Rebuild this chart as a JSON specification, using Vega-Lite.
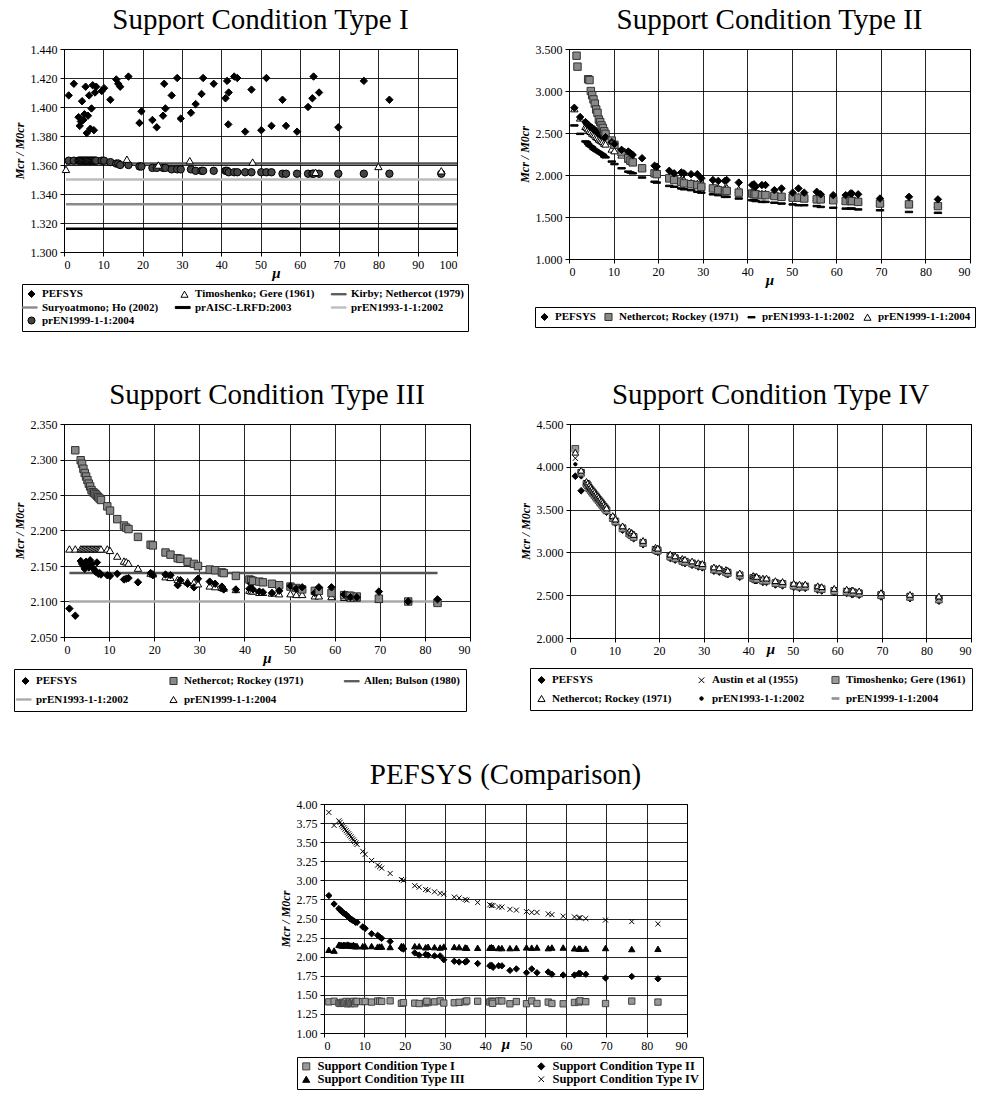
{
"$schema": "https://vega.github.io/schema/vega-lite/v6.json",
"background": "white",
"padding": {"left": 12, "top": 5, "right": 0, "bottom": 0},
"datasets": {
"main": [
{"mu":1.2,"i1":1.408,"i2":1.363,"ii1":2.80,"ii3":2.59,"ii4":2.79,"iii1":2.090,"iii3":2.174,"iv1":3.89,"iv2":4.10,"iv3":4.21,"iv4":4.17,"iv5":4.03,"iv6":4.19},
{"mu":2.5,"i1":1.416,"i2":1.363,"ii1":2.69,"ii3":2.49,"ii4":2.68,"iii1":2.080,"iii2":2.313,"iii3":2.174,"iv1":3.72,"iv2":3.94,"iv3":3.93,"iv4":3.96,"iv5":3.88,"iv6":3.92},
{"mu":3.7,"i1":1.393,"i2":1.363,"ii1":2.63,"ii3":2.40,"ii4":2.58,"iii1":2.157,"iii2":2.299,"iii3":2.174,"iv1":3.78,"iv2":3.815,"iv3":3.80,"iv4":3.83,"iv5":3.785,"iv6":3.79},
{"mu":4.0,"i1":1.387,"i2":1.363,"ii1":2.61,"ii3":2.39,"ii4":2.57,"iii1":2.153,"iii2":2.294,"iii3":2.174,"iv1":3.76,"iv2":3.795,"iv3":3.78,"iv4":3.81,"iv5":3.765,"iv6":3.77},
{"mu":4.3,"i1":1.390,"i2":1.363,"ii1":2.60,"ii2":3.14,"ii3":2.37,"ii4":2.55,"iii1":2.150,"iii2":2.287,"iii3":2.174,"iv1":3.73,"iv2":3.765,"iv3":3.75,"iv4":3.78,"iv5":3.735,"iv6":3.74},
{"mu":4.6,"i1":1.404,"i2":1.363,"ii1":2.58,"ii2":3.13,"ii3":2.35,"ii4":2.53,"iii1":2.146,"iii2":2.281,"iii3":2.174,"iv1":3.71,"iv2":3.745,"iv3":3.73,"iv4":3.76,"iv5":3.715,"iv6":3.72},
{"mu":4.9,"i1":1.391,"i2":1.363,"ii1":2.57,"ii2":3.00,"ii3":2.34,"ii4":2.52,"iii1":2.156,"iii2":2.276,"iii3":2.174,"iv1":3.69,"iv2":3.725,"iv3":3.71,"iv4":3.74,"iv5":3.695,"iv6":3.70},
{"mu":5.2,"i1":1.395,"i2":1.363,"ii1":2.56,"ii2":2.95,"ii3":2.33,"ii4":2.50,"iii1":2.151,"iii2":2.271,"iii3":2.174,"iv1":3.67,"iv2":3.705,"iv3":3.69,"iv4":3.72,"iv5":3.675,"iv6":3.68},
{"mu":5.5,"i1":1.414,"i2":1.363,"ii1":2.55,"ii2":2.90,"ii3":2.31,"ii4":2.49,"iii1":2.148,"iii2":2.266,"iii3":2.174,"iv1":3.65,"iv2":3.685,"iv3":3.67,"iv4":3.70,"iv5":3.655,"iv6":3.66},
{"mu":5.8,"i1":1.382,"i2":1.363,"ii1":2.53,"ii2":2.85,"ii3":2.30,"ii4":2.48,"iii1":2.158,"iii2":2.262,"iii3":2.174,"iv1":3.63,"iv2":3.665,"iv3":3.65,"iv4":3.68,"iv5":3.635,"iv6":3.64},
{"mu":6.1,"i1":1.394,"i2":1.363,"ii1":2.52,"ii2":2.78,"ii3":2.29,"ii4":2.46,"iii1":2.153,"iii2":2.257,"iii3":2.174,"iv1":3.61,"iv2":3.645,"iv3":3.63,"iv4":3.66,"iv5":3.615,"iv6":3.62},
{"mu":6.4,"i1":1.408,"i2":1.363,"ii1":2.50,"ii2":2.74,"ii3":2.28,"ii4":2.45,"iii1":2.147,"iii2":2.254,"iii3":2.174,"iv1":3.59,"iv2":3.625,"iv3":3.61,"iv4":3.64,"iv5":3.595,"iv6":3.60},
{"mu":6.7,"i1":1.385,"i2":1.363,"ii1":2.49,"ii2":2.66,"ii3":2.27,"ii4":2.43,"iii1":2.145,"iii2":2.253,"iii3":2.174,"iv1":3.57,"iv2":3.605,"iv3":3.59,"iv4":3.62,"iv5":3.575,"iv6":3.58},
{"mu":7.0,"i1":1.399,"i2":1.363,"ii1":2.48,"ii2":2.63,"ii3":2.26,"ii4":2.42,"iii1":2.142,"iii2":2.251,"iii3":2.174,"iv1":3.55,"iv2":3.585,"iv3":3.57,"iv4":3.60,"iv5":3.555,"iv6":3.56},
{"mu":7.3,"i1":1.415,"i2":1.363,"ii1":2.47,"ii2":2.59,"ii3":2.25,"ii4":2.41,"iii1":2.155,"iii2":2.249,"iii3":2.174,"iv1":3.53,"iv2":3.565,"iv3":3.55,"iv4":3.58,"iv5":3.535,"iv6":3.54},
{"mu":7.6,"i1":1.384,"i2":1.363,"ii1":2.46,"ii2":2.56,"ii3":2.24,"ii4":2.40,"iii1":2.139,"iii2":2.247,"iii3":2.174,"iv1":3.51,"iv2":3.545,"iv3":3.53,"iv4":3.56,"iv5":3.515,"iv6":3.52},
{"mu":7.9,"i1":1.410,"i2":1.363,"ii1":2.45,"ii2":2.52,"ii3":2.22,"ii4":2.38,"iii1":2.140,"iii2":2.245,"iii3":2.174,"iv1":3.49,"iv2":3.525,"iv3":3.51,"iv4":3.54,"iv5":3.495,"iv6":3.50},
{"mu":8.2,"i1":1.414,"i2":1.363,"ii1":2.45,"ii2":2.49,"ii3":2.21,"ii4":2.37,"iii1":2.138,"iii2":2.243,"iii3":2.174,"iv1":3.47,"iv2":3.505,"iv3":3.49,"iv4":3.52,"iv5":3.475,"iv6":3.48},
{"mu":9.6,"i1":1.411,"i2":1.363,"ii1":2.39,"ii2":2.41,"ii3":2.16,"ii4":2.31,"iii1":2.137,"iii2":2.234,"iii3":2.174,"iv1":3.38,"iv2":3.415,"iv3":3.40,"iv4":3.43,"iv5":3.385,"iv6":3.39},
{"mu":10.2,"i1":1.413,"i2":1.363,"ii1":2.37,"ii2":2.36,"ii3":2.13,"ii4":2.29,"iii1":2.136,"iii2":2.228,"iii3":2.172,"iv1":3.34,"iv2":3.375,"iv3":3.36,"iv4":3.39,"iv5":3.345,"iv6":3.35},
{"mu":11.8,"i1":1.405,"i2":1.362,"ii1":2.30,"ii2":2.27,"ii3":2.08,"ii4":2.24,"iii1":2.139,"iii2":2.216,"iii3":2.164,"iv1":3.26,"iv2":3.295,"iv3":3.28,"iv4":3.31,"iv5":3.265,"iv6":3.27},
{"mu":13.3,"i1":1.419,"i2":1.361,"ii1":2.28,"ii2":2.20,"ii3":2.04,"ii4":2.19,"iii1":2.131,"iii2":2.207,"iii3":2.157,"iv1":3.20,"iv2":3.235,"iv3":3.22,"iv4":3.25,"iv5":3.205,"iv6":3.21},
{"mu":13.8,"i1":1.416,"i2":1.361,"ii1":2.26,"ii2":2.17,"ii3":2.03,"ii4":2.17,"iii1":2.132,"iii2":2.204,"iii3":2.156,"iv1":3.18,"iv2":3.215,"iv3":3.20,"iv4":3.23,"iv5":3.185,"iv6":3.19},
{"mu":14.3,"i1":1.414,"i2":1.360,"ii1":2.24,"ii2":2.15,"ii3":2.02,"ii4":2.16,"iii1":2.133,"iii2":2.202,"iii3":2.154,"iv1":3.16,"iv2":3.195,"iv3":3.18,"iv4":3.21,"iv5":3.165,"iv6":3.17},
{"mu":16.4,"i1":1.421,"i2":1.360,"ii1":2.20,"ii2":2.08,"ii3":1.97,"ii4":2.09,"iii1":2.127,"iii2":2.191,"iii3":2.147,"iv1":3.09,"iv2":3.125,"iv3":3.11,"iv4":3.14,"iv5":3.095,"iv6":3.10},
{"mu":19.2,"i1":1.389,"i2":1.359,"ii1":2.11,"ii2":2.02,"ii3":1.92,"ii4":2.03,"iii1":2.140,"iii2":2.180,"iii3":2.140,"iv1":3.01,"iv2":3.045,"iv3":3.03,"iv4":3.06,"iv5":3.015,"iv6":3.02},
{"mu":19.7,"i1":1.397,"i2":1.359,"ii1":2.10,"ii2":2.01,"ii3":1.91,"ii4":2.02,"iii1":2.137,"iii2":2.179,"iii3":2.139,"iv1":3.00,"iv2":3.035,"iv3":3.02,"iv4":3.05,"iv5":3.005,"iv6":3.01},
{"mu":22.5,"i1":1.391,"i2":1.358,"ii1":2.05,"ii2":1.96,"ii3":1.87,"ii4":1.97,"iii1":2.138,"iii2":2.169,"iii3":2.135,"iv1":2.93,"iv2":2.965,"iv3":2.95,"iv4":2.98,"iv5":2.935,"iv6":2.94},
{"mu":23.6,"i1":1.386,"i2":1.358,"ii1":2.02,"ii2":1.94,"ii3":1.86,"ii4":1.96,"iii1":2.137,"iii2":2.166,"iii3":2.134,"iv1":2.91,"iv2":2.945,"iv3":2.93,"iv4":2.96,"iv5":2.915,"iv6":2.92},
{"mu":25.2,"i1":1.394,"i2":1.358,"ii1":2.03,"ii2":1.92,"ii3":1.84,"ii4":1.95,"iii1":2.123,"iii2":2.161,"iii3":2.131,"iv1":2.88,"iv2":2.915,"iv3":2.90,"iv4":2.93,"iv5":2.885,"iv6":2.89},
{"mu":25.8,"i1":1.399,"i2":1.358,"ii1":2.02,"ii2":1.90,"ii3":1.83,"ii4":1.94,"iii1":2.130,"iii2":2.160,"iii3":2.130,"iv1":2.87,"iv2":2.905,"iv3":2.89,"iv4":2.92,"iv5":2.875,"iv6":2.88},
{"mu":27.4,"i1":1.408,"i2":1.357,"ii1":2.01,"ii2":1.89,"ii3":1.82,"ii4":1.91,"iii1":2.125,"iii2":2.156,"iii3":2.128,"iv1":2.85,"iv2":2.885,"iv3":2.87,"iv4":2.90,"iv5":2.855,"iv6":2.86},
{"mu":28.8,"i1":1.420,"i2":1.357,"ii1":2.01,"ii2":1.88,"ii3":1.80,"ii4":1.90,"iii1":2.120,"iii2":2.153,"iii3":2.127,"iv1":2.83,"iv2":2.865,"iv3":2.85,"iv4":2.88,"iv5":2.835,"iv6":2.84},
{"mu":29.7,"i1":1.392,"i2":1.357,"ii1":1.96,"ii2":1.86,"ii3":1.79,"ii4":1.89,"iii1":2.132,"iii2":2.150,"iii3":2.125,"iv1":2.82,"iv2":2.855,"iv3":2.84,"iv4":2.87,"iv5":2.825,"iv6":2.83},
{"mu":32.3,"i1":1.396,"i2":1.357,"ii1":1.94,"ii2":1.84,"ii3":1.77,"ii4":1.86,"iii1":2.128,"iii2":2.145,"iii3":2.122,"iv1":2.78,"iv2":2.815,"iv3":2.80,"iv4":2.83,"iv5":2.785,"iv6":2.79},
{"mu":33.5,"i1":1.402,"i2":1.356,"ii1":1.93,"ii2":1.82,"ii3":1.76,"ii4":1.85,"iii1":2.125,"iii2":2.144,"iii3":2.121,"iv1":2.77,"iv2":2.805,"iv3":2.79,"iv4":2.82,"iv5":2.775,"iv6":2.78},
{"mu":35.0,"i1":1.409,"i2":1.356,"ii1":1.93,"ii2":1.81,"ii3":1.74,"ii4":1.84,"iii1":2.121,"iii2":2.141,"iii3":2.120,"iv1":2.75,"iv2":2.785,"iv3":2.77,"iv4":2.80,"iv5":2.755,"iv6":2.76},
{"mu":35.4,"i1":1.420,"i2":1.356,"ii1":1.94,"ii2":1.81,"ii3":1.74,"ii4":1.85,"iii1":2.117,"iii2":2.140,"iii3":2.119,"iv1":2.74,"iv2":2.775,"iv3":2.76,"iv4":2.79,"iv5":2.745,"iv6":2.75},
{"mu":38.1,"i1":1.416,"i2":1.356,"ii1":1.91,"ii2":1.79,"ii3":1.72,"ii4":1.83,"iii1":2.117,"iii2":2.136,"iii3":2.117,"iv1":2.71,"iv2":2.745,"iv3":2.73,"iv4":2.76,"iv5":2.715,"iv6":2.72},
{"mu":41.1,"i1":1.406,"i2":1.356,"ii1":1.88,"ii2":1.78,"ii3":1.70,"ii4":1.80,"iii1":2.118,"iii2":2.131,"iii3":2.116,"iv1":2.68,"iv2":2.715,"iv3":2.70,"iv4":2.73,"iv5":2.685,"iv6":2.69},
{"mu":41.5,"i1":1.418,"i2":1.356,"ii1":1.89,"ii2":1.77,"ii3":1.70,"ii4":1.80,"iii1":2.125,"iii2":2.130,"iii3":2.115,"iv1":2.67,"iv2":2.705,"iv3":2.69,"iv4":2.72,"iv5":2.675,"iv6":2.68},
{"mu":41.9,"i1":1.410,"i2":1.355,"ii1":1.86,"ii2":1.77,"ii3":1.69,"ii4":1.79,"iii1":2.117,"iii2":2.129,"iii3":2.115,"iv1":2.67,"iv2":2.705,"iv3":2.69,"iv4":2.72,"iv5":2.675,"iv6":2.68},
{"mu":43.3,"i1":1.421,"i2":1.355,"ii1":1.88,"ii2":1.76,"ii3":1.68,"ii4":1.78,"iii1":2.114,"iii2":2.128,"iii3":2.113,"iv1":2.65,"iv2":2.685,"iv3":2.67,"iv4":2.70,"iv5":2.655,"iv6":2.66},
{"mu":44.1,"i1":1.420,"i2":1.355,"ii1":1.88,"ii2":1.76,"ii3":1.68,"ii4":1.78,"iii1":2.113,"iii2":2.127,"iii3":2.113,"iv1":2.65,"iv2":2.685,"iv3":2.67,"iv4":2.70,"iv5":2.655,"iv6":2.66},
{"mu":46.1,"i1":1.383,"i2":1.355,"ii1":1.82,"ii2":1.75,"ii3":1.67,"ii4":1.76,"iii1":2.112,"iii2":2.125,"iii3":2.112,"iv1":2.62,"iv2":2.655,"iv3":2.64,"iv4":2.67,"iv5":2.625,"iv6":2.63},
{"mu":47.7,"i1":1.412,"i2":1.355,"ii1":1.84,"ii2":1.74,"ii3":1.66,"ii4":1.76,"iii1":2.115,"iii2":2.123,"iii3":2.111,"iv1":2.61,"iv2":2.645,"iv3":2.63,"iv4":2.66,"iv5":2.615,"iv6":2.62},
{"mu":50.2,"i1":1.384,"i2":1.355,"ii1":1.79,"ii2":1.73,"ii3":1.65,"ii4":1.74,"iii1":2.122,"iii2":2.121,"iii3":2.111,"iv1":2.59,"iv2":2.625,"iv3":2.61,"iv4":2.64,"iv5":2.595,"iv6":2.60},
{"mu":51.5,"i1":1.420,"i2":1.355,"ii1":1.84,"ii2":1.73,"ii3":1.64,"ii4":1.74,"iii1":2.118,"iii2":2.119,"iii3":2.110,"iv1":2.58,"iv2":2.615,"iv3":2.60,"iv4":2.63,"iv5":2.585,"iv6":2.59},
{"mu":52.8,"i1":1.387,"i2":1.355,"ii1":1.79,"ii2":1.72,"ii3":1.64,"ii4":1.74,"iii1":2.120,"iii2":2.117,"iii3":2.110,"iv1":2.58,"iv2":2.615,"iv3":2.60,"iv4":2.63,"iv5":2.585,"iv6":2.59},
{"mu":55.6,"i1":1.405,"i2":1.354,"ii1":1.80,"ii2":1.71,"ii3":1.63,"ii4":1.73,"iii1":2.112,"iii2":2.115,"iii3":2.108,"iv1":2.56,"iv2":2.595,"iv3":2.58,"iv4":2.61,"iv5":2.565,"iv6":2.57},
{"mu":56.5,"i1":1.387,"i2":1.354,"ii1":1.77,"ii2":1.71,"ii3":1.62,"ii4":1.72,"iii1":2.120,"iii2":2.115,"iii3":2.108,"iv1":2.55,"iv2":2.585,"iv3":2.57,"iv4":2.60,"iv5":2.555,"iv6":2.56},
{"mu":59.3,"i1":1.383,"i2":1.354,"ii1":1.76,"ii2":1.70,"ii3":1.61,"ii4":1.72,"iii1":2.120,"iii2":2.112,"iii3":2.107,"iv1":2.53,"iv2":2.565,"iv3":2.55,"iv4":2.58,"iv5":2.535,"iv6":2.54},
{"mu":62.1,"i1":1.400,"i2":1.354,"ii1":1.76,"ii2":1.69,"ii3":1.60,"ii4":1.70,"iii1":2.110,"iii2":2.109,"iii3":2.106,"iv1":2.52,"iv2":2.555,"iv3":2.54,"iv4":2.57,"iv5":2.525,"iv6":2.53},
{"mu":63.2,"i1":1.406,"i2":1.354,"ii1":1.78,"ii2":1.69,"ii3":1.60,"ii4":1.71,"iii1":2.107,"iii2":2.108,"iii3":2.106,"iv1":2.51,"iv2":2.545,"iv3":2.53,"iv4":2.56,"iv5":2.515,"iv6":2.52},
{"mu":63.5,"i1":1.421,"i2":1.354,"ii1":1.78,"ii2":1.69,"ii3":1.60,"ii4":1.71,"iii1":2.106,"iii2":2.108,"iii3":2.105,"iv1":2.51,"iv2":2.545,"iv3":2.53,"iv4":2.56,"iv5":2.515,"iv6":2.52},
{"mu":64.9,"i1":1.410,"i2":1.354,"ii1":1.77,"ii2":1.68,"ii3":1.59,"ii4":1.70,"iii1":2.106,"iii2":2.107,"iii3":2.105,"iv1":2.50,"iv2":2.535,"iv3":2.52,"iv4":2.55,"iv5":2.505,"iv6":2.51},
{"mu":69.8,"i1":1.386,"i2":1.354,"ii1":1.72,"ii2":1.66,"ii3":1.58,"ii4":1.68,"iii1":2.114,"iii2":2.104,"iii3":2.103,"iv1":2.48,"iv2":2.515,"iv3":2.50,"iv4":2.53,"iv5":2.485,"iv6":2.49},
{"mu":76.3,"i1":1.418,"i2":1.354,"ii1":1.74,"ii2":1.65,"ii3":1.56,"ii4":1.67,"iii1":2.100,"iii2":2.100,"iii3":2.101,"iv1":2.46,"iv2":2.495,"iv3":2.48,"iv4":2.51,"iv5":2.465,"iv6":2.47},
{"mu":82.8,"i1":1.405,"i2":1.354,"ii1":1.71,"ii2":1.63,"ii3":1.55,"ii4":1.65,"iii1":2.103,"iii2":2.098,"iii3":2.100,"iv1":2.43,"iv2":2.465,"iv3":2.45,"iv4":2.49,"iv5":2.435,"iv6":2.44},
{"mu":1.7,"ii2":3.42},
{"mu":1.9,"ii2":3.29},
{"mu":25.5,"i1":1.416},
{"mu":41.8,"i1":1.388},
{"mu":0.5,"it":1.357},
{"mu":16,"it":1.364},
{"mu":24,"it":1.360},
{"mu":32,"it":1.363},
{"mu":48,"it":1.362},
{"mu":64,"it":1.355},
{"mu":80,"it":1.359},
{"mu":96,"it":1.356,"i2":1.354}
],
"rules1": [
{"series":"kirby","y":1.361,"x0":0.5,"x1":100},
{"series":"en93","y":1.350,"x0":0.5,"x1":100},
{"series":"sury","y":1.333,"x0":0.5,"x1":100},
{"series":"aisc","y":1.316,"x0":0.5,"x1":100}
],
"rules3": [
{"series":"allen","y":2.140,"x0":1.2,"x1":82.8},
{"series":"en93","y":2.100,"x0":1.2,"x1":82.8}
]
},
"resolve": {"scale": {"fill":"independent","stroke":"independent","shape":"independent"}, "legend": {"fill":"independent","stroke":"independent","shape":"independent"}},
"spacing": 48,
"vconcat": [
{
"spacing": 48,
"resolve": {"scale": {"fill":"independent","stroke":"independent","shape":"independent"}, "legend": {"fill":"independent","stroke":"independent","shape":"independent"}},
"hconcat": [
{
"width": 393, "height": 203,
"title": {"text": "Support Condition Type I", "offset": 8},
"layer": [
{
"data": {"name": "rules1"},
"mark": {"type": "rule", "strokeWidth": 2.5},
"encoding": {
"x": {"field": "x0", "type": "quantitative", "scale": {"domain": [0,100], "nice": false, "zero": false}, "axis": {"values": [0,10,20,30,40,50,60,70,80,90,100], "title": "μ", "titleX": 212, "titleY": 20, "titleBaseline": "middle"}},
"x2": {"field": "x1"},
"y": {"field": "y", "type": "quantitative", "scale": {"domain": [1.3,1.44], "nice": false, "zero": false}, "axis": {"values": [1.30,1.32,1.34,1.36,1.38,1.40,1.42,1.44], "format": ".3f", "title": "Mcr / M0cr"}},
"stroke": {"field": "series", "type": "nominal", "scale": {"domain": ["i1","it","kirby","sury","aisc","en93","i2"], "range": ["#000","#000","#555","#8a8a8a","#000","#bdbdbd","#000"]},
"legend": {"orient":"none","legendX":-42,"legendY":235,"columns":3,"direction":"horizontal","title":null,"columnPadding":14,"rowPadding":1,"labelExpr":"datum.label=='i1'?'PEFSYS':datum.label=='it'?'Timoshenko; Gere (1961)':datum.label=='kirby'?'Kirby; Nethercot (1979)':datum.label=='sury'?'Suryoatmono; Ho (2002)':datum.label=='aisc'?'prAISC-LRFD:2003':datum.label=='en93'?'prEN1993-1-1:2002':'prEN1999-1-1:2004'"}}
}
},
{
"data": {"name": "main"},
"transform": [{"fold": ["i2","it","i1"], "as": ["series","value"]}, {"filter": "isValid(datum.value)"}],
"mark": {"type": "point", "filled": true, "size": 55, "opacity": 1, "strokeWidth": 1},
"encoding": {
"x": {"field": "mu", "type": "quantitative", "scale": {"domain": [0,100], "nice": false, "zero": false}, "axis": {"values": [0,10,20,30,40,50,60,70,80,90,100], "title": "μ", "titleX": 212, "titleY": 20, "titleBaseline": "middle"}},
"y": {"field": "value", "type": "quantitative", "scale": {"domain": [1.3,1.44], "nice": false, "zero": false}, "axis": {"values": [1.30,1.32,1.34,1.36,1.38,1.40,1.42,1.44], "format": ".3f", "title": "Mcr / M0cr"}},
"shape": {"field": "series", "type": "nominal", "scale": {"domain": ["i1","it","kirby","sury","aisc","en93","i2"], "range": ["diamond","triangle-up","M-2.6,-0.18L1.6,-0.18L1.6,0.18L-2.6,0.18Z","M-2.6,-0.18L1.6,-0.18L1.6,0.18L-2.6,0.18Z","M-2.6,-0.3L1.6,-0.3L1.6,0.3L-2.6,0.3Z","M-2.6,-0.18L1.6,-0.18L1.6,0.18L-2.6,0.18Z","circle"]},
"legend": {"orient":"none","legendX":-42,"legendY":235,"columns":3,"direction":"horizontal","title":null,"columnPadding":14,"rowPadding":1,"labelExpr":"datum.label=='i1'?'PEFSYS':datum.label=='it'?'Timoshenko; Gere (1961)':datum.label=='kirby'?'Kirby; Nethercot (1979)':datum.label=='sury'?'Suryoatmono; Ho (2002)':datum.label=='aisc'?'prAISC-LRFD:2003':datum.label=='en93'?'prEN1993-1-1:2002':'prEN1999-1-1:2004'"}},
"fill": {"field": "series", "type": "nominal", "scale": {"domain": ["i1","it","kirby","sury","aisc","en93","i2"], "range": ["#000","#fff","#555","#8a8a8a","#000","#bdbdbd","#444"]},
"legend": {"orient":"none","legendX":-42,"legendY":235,"columns":3,"direction":"horizontal","title":null,"columnPadding":14,"rowPadding":1,"labelExpr":"datum.label=='i1'?'PEFSYS':datum.label=='it'?'Timoshenko; Gere (1961)':datum.label=='kirby'?'Kirby; Nethercot (1979)':datum.label=='sury'?'Suryoatmono; Ho (2002)':datum.label=='aisc'?'prAISC-LRFD:2003':datum.label=='en93'?'prEN1993-1-1:2002':'prEN1999-1-1:2004'"}},
"stroke": {"field": "series", "type": "nominal", "scale": {"domain": ["i1","it","kirby","sury","aisc","en93","i2"], "range": ["#000","#000","#555","#8a8a8a","#000","#bdbdbd","#000"]},
"legend": {"orient":"none","legendX":-42,"legendY":235,"columns":3,"direction":"horizontal","title":null,"columnPadding":14,"rowPadding":1,"labelExpr":"datum.label=='i1'?'PEFSYS':datum.label=='it'?'Timoshenko; Gere (1961)':datum.label=='kirby'?'Kirby; Nethercot (1979)':datum.label=='sury'?'Suryoatmono; Ho (2002)':datum.label=='aisc'?'prAISC-LRFD:2003':datum.label=='en93'?'prEN1993-1-1:2002':'prEN1999-1-1:2004'"}}
}
}
]
},
{
"width": 401, "height": 210,
"title": {"text": "Support Condition Type II", "offset": 8},
"data": {"name": "main"},
"transform": [{"fold": ["ii3","ii4","ii2","ii1"], "as": ["series","value"]}, {"filter": "isValid(datum.value)"}],
"mark": {"type": "point", "filled": true, "size": 55, "opacity": 1, "strokeWidth": 1},
"encoding": {
"x": {"field": "mu", "type": "quantitative", "scale": {"domain": [0,90], "nice": false, "zero": false}, "axis": {"values": [0,10,20,30,40,50,60,70,80,90], "title": "μ", "titleY": 20, "titleBaseline": "middle"}},
"y": {"field": "value", "type": "quantitative", "scale": {"domain": [1,3.5], "nice": false, "zero": false}, "axis": {"values": [1,1.5,2,2.5,3,3.5], "format": ".3f", "title": "Mcr / M0cr"}},
"shape": {"field": "series", "type": "nominal", "scale": {"domain": ["ii1","ii2","ii3","ii4"], "range": ["diamond","square","M-1,-0.2L1,-0.2L1,0.2L-1,0.2Z","triangle-up"]},
"legend": {"orient":"none","legendX":-34,"legendY":258,"columns":4,"direction":"horizontal","title":null,"columnPadding":6,"labelExpr":"datum.label=='ii1'?'PEFSYS':datum.label=='ii2'?'Nethercot; Rockey (1971)':datum.label=='ii3'?'prEN1993-1-1:2002':'prEN1999-1-1:2004'"}},
"fill": {"field": "series", "type": "nominal", "scale": {"domain": ["ii1","ii2","ii3","ii4"], "range": ["#000","#888","#000","#fff"]},
"legend": {"orient":"none","legendX":-34,"legendY":258,"columns":4,"direction":"horizontal","title":null,"columnPadding":6,"labelExpr":"datum.label=='ii1'?'PEFSYS':datum.label=='ii2'?'Nethercot; Rockey (1971)':datum.label=='ii3'?'prEN1993-1-1:2002':'prEN1999-1-1:2004'"}},
"stroke": {"field": "series", "type": "nominal", "scale": {"domain": ["ii1","ii2","ii3","ii4"], "range": ["#000","#333","#000","#000"]},
"legend": {"orient":"none","legendX":-34,"legendY":258,"columns":4,"direction":"horizontal","title":null,"columnPadding":6,"labelExpr":"datum.label=='ii1'?'PEFSYS':datum.label=='ii2'?'Nethercot; Rockey (1971)':datum.label=='ii3'?'prEN1993-1-1:2002':'prEN1999-1-1:2004'"}}
}
}
]
},
{
"spacing": 47,
"resolve": {"scale": {"fill":"independent","stroke":"independent","shape":"independent"}, "legend": {"fill":"independent","stroke":"independent","shape":"independent"}},
"hconcat": [
{
"width": 406, "height": 213,
"title": {"text": "Support Condition Type III", "offset": 8},
"layer": [
{
"data": {"name": "rules3"},
"mark": {"type": "rule", "strokeWidth": 2.5},
"encoding": {
"x": {"field": "x0", "type": "quantitative", "scale": {"domain": [0,90], "nice": false, "zero": false}, "axis": {"values": [0,10,20,30,40,50,60,70,80,90], "title": "μ", "titleY": 20, "titleBaseline": "middle"}},
"x2": {"field": "x1"},
"y": {"field": "y", "type": "quantitative", "scale": {"domain": [2.05,2.35], "nice": false, "zero": false}, "axis": {"values": [2.05,2.1,2.15,2.2,2.25,2.3,2.35], "format": ".3f", "title": "Mcr / M0cr"}},
"stroke": {"field": "series", "type": "nominal", "scale": {"domain": ["iii1","iii2","allen","en93","iii3"], "range": ["#000","#333","#555","#aaa","#000"]},
"legend": {"orient":"none","legendX":-50,"legendY":245,"columns":3,"direction":"horizontal","title":null,"columnPadding":38,"rowPadding":6,"padding":6,"labelExpr":"datum.label=='iii1'?'PEFSYS':datum.label=='iii2'?'Nethercot; Rockey (1971)':datum.label=='allen'?'Allen; Bulson (1980)':datum.label=='en93'?'prEN1993-1-1:2002':'prEN1999-1-1:2004'"}}
}
},
{
"data": {"name": "main"},
"transform": [{"fold": ["iii3","iii2","iii1"], "as": ["series","value"]}, {"filter": "isValid(datum.value)"}],
"mark": {"type": "point", "filled": true, "size": 55, "opacity": 1, "strokeWidth": 1},
"encoding": {
"x": {"field": "mu", "type": "quantitative", "scale": {"domain": [0,90], "nice": false, "zero": false}, "axis": {"values": [0,10,20,30,40,50,60,70,80,90], "title": "μ", "titleY": 20, "titleBaseline": "middle"}},
"y": {"field": "value", "type": "quantitative", "scale": {"domain": [2.05,2.35], "nice": false, "zero": false}, "axis": {"values": [2.05,2.1,2.15,2.2,2.25,2.3,2.35], "format": ".3f", "title": "Mcr / M0cr"}},
"shape": {"field": "series", "type": "nominal", "scale": {"domain": ["iii1","iii2","allen","en93","iii3"], "range": ["diamond","square","M-2.6,-0.18L1.6,-0.18L1.6,0.18L-2.6,0.18Z","M-2.6,-0.18L1.6,-0.18L1.6,0.18L-2.6,0.18Z","triangle-up"]},
"legend": {"orient":"none","legendX":-50,"legendY":245,"columns":3,"direction":"horizontal","title":null,"columnPadding":38,"rowPadding":6,"padding":6,"labelExpr":"datum.label=='iii1'?'PEFSYS':datum.label=='iii2'?'Nethercot; Rockey (1971)':datum.label=='allen'?'Allen; Bulson (1980)':datum.label=='en93'?'prEN1993-1-1:2002':'prEN1999-1-1:2004'"}},
"fill": {"field": "series", "type": "nominal", "scale": {"domain": ["iii1","iii2","allen","en93","iii3"], "range": ["#000","#888","#555","#aaa","#fff"]},
"legend": {"orient":"none","legendX":-50,"legendY":245,"columns":3,"direction":"horizontal","title":null,"columnPadding":38,"rowPadding":6,"padding":6,"labelExpr":"datum.label=='iii1'?'PEFSYS':datum.label=='iii2'?'Nethercot; Rockey (1971)':datum.label=='allen'?'Allen; Bulson (1980)':datum.label=='en93'?'prEN1993-1-1:2002':'prEN1999-1-1:2004'"}},
"stroke": {"field": "series", "type": "nominal", "scale": {"domain": ["iii1","iii2","allen","en93","iii3"], "range": ["#000","#333","#555","#aaa","#000"]},
"legend": {"orient":"none","legendX":-50,"legendY":245,"columns":3,"direction":"horizontal","title":null,"columnPadding":38,"rowPadding":6,"padding":6,"labelExpr":"datum.label=='iii1'?'PEFSYS':datum.label=='iii2'?'Nethercot; Rockey (1971)':datum.label=='allen'?'Allen; Bulson (1980)':datum.label=='en93'?'prEN1993-1-1:2002':'prEN1999-1-1:2004'"}}
}
}
]
},
{
"width": 401, "height": 214,
"title": {"text": "Support Condition Type IV", "offset": 8},
"data": {"name": "main"},
"transform": [{"fold": ["iv1","iv5","iv3","iv6","iv2","iv4"], "as": ["series","value"]}, {"filter": "isValid(datum.value)"}],
"mark": {"type": "point", "filled": true, "size": 45, "opacity": 1, "strokeWidth": 1},
"encoding": {
"x": {"field": "mu", "type": "quantitative", "scale": {"domain": [0,90], "nice": false, "zero": false}, "axis": {"values": [0,10,20,30,40,50,60,70,80,90], "title": "μ", "titleY": 10, "titleBaseline": "middle"}},
"y": {"field": "value", "type": "quantitative", "scale": {"domain": [2,4.5], "nice": false, "zero": false}, "axis": {"values": [2,2.5,3,3.5,4,4.5], "format": ".3f", "title": "Mcr / M0cr"}},
"shape": {"field": "series", "type": "nominal", "scale": {"domain": ["iv1","iv2","iv3","iv4","iv5","iv6"], "range": ["diamond","M-0.8,-0.8L0.8,0.8M-0.8,0.8L0.8,-0.8","square","triangle-up","M-0.5,0A0.5,0.5,0,1,0,0.5,0A0.5,0.5,0,1,0,-0.5,0Z","M-1,-0.25L1,-0.25L1,0.25L-1,0.25Z"]},
"legend": {"orient":"none","legendX":-40,"legendY":244,"columns":3,"direction":"horizontal","title":null,"columnPadding":24,"rowPadding":6,"padding":6,"labelExpr":"datum.label=='iv1'?'PEFSYS':datum.label=='iv2'?'Austin et al (1955)':datum.label=='iv3'?'Timoshenko; Gere (1961)':datum.label=='iv4'?'Nethercot; Rockey (1971)':datum.label=='iv5'?'prEN1993-1-1:2002':'prEN1999-1-1:2004'"}},
"fill": {"field": "series", "type": "nominal", "scale": {"domain": ["iv1","iv2","iv3","iv4","iv5","iv6"], "range": ["#000","transparent","#999","#fff","#000","#999"]},
"legend": {"orient":"none","legendX":-40,"legendY":244,"columns":3,"direction":"horizontal","title":null,"columnPadding":24,"rowPadding":6,"padding":6,"labelExpr":"datum.label=='iv1'?'PEFSYS':datum.label=='iv2'?'Austin et al (1955)':datum.label=='iv3'?'Timoshenko; Gere (1961)':datum.label=='iv4'?'Nethercot; Rockey (1971)':datum.label=='iv5'?'prEN1993-1-1:2002':'prEN1999-1-1:2004'"}},
"stroke": {"field": "series", "type": "nominal", "scale": {"domain": ["iv1","iv2","iv3","iv4","iv5","iv6"], "range": ["#000","#000","#444","#000","#000","#999"]},
"legend": {"orient":"none","legendX":-40,"legendY":244,"columns":3,"direction":"horizontal","title":null,"columnPadding":24,"rowPadding":6,"padding":6,"labelExpr":"datum.label=='iv1'?'PEFSYS':datum.label=='iv2'?'Austin et al (1955)':datum.label=='iv3'?'Timoshenko; Gere (1961)':datum.label=='iv4'?'Nethercot; Rockey (1971)':datum.label=='iv5'?'prEN1993-1-1:2002':'prEN1999-1-1:2004'"}}
}
}
]
},
{
"spacing": 0,
"resolve": {"scale": {"fill":"independent","stroke":"independent","shape":"independent"}, "legend": {"fill":"independent","stroke":"independent","shape":"independent"}},
"hconcat": [
{"width": 214, "height": 20, "data": {"values": []}, "mark": "point", "view": {"stroke": null}},
{
"width": 363, "height": 229,
"title": {"text": "PEFSYS (Comparison)", "offset": 8},
"data": {"name": "main"},
"transform": [{"fold": ["i1","ii1","iii1","iv1"], "as": ["series","value"]}, {"filter": "isValid(datum.value) && datum.mu <= 90"}],
"mark": {"type": "point", "filled": true, "size": 40, "opacity": 1, "strokeWidth": 1},
"encoding": {
"x": {"field": "mu", "type": "quantitative", "scale": {"domain": [0,90], "nice": false, "zero": false}, "axis": {"values": [0,10,20,30,40,50,60,70,80,90], "title": "μ", "titleY": 10, "titleBaseline": "middle"}},
"y": {"field": "value", "type": "quantitative", "scale": {"domain": [1,4], "nice": false, "zero": false}, "axis": {"values": [1,1.25,1.5,1.75,2,2.25,2.5,2.75,3,3.25,3.5,3.75,4], "format": ".2f", "title": "Mcr / M0cr"}},
"shape": {"field": "series", "type": "nominal", "scale": {"domain": ["i1","ii1","iii1","iv1"], "range": ["square","diamond","triangle-up","M-0.8,-0.8L0.8,0.8M-0.8,0.8L0.8,-0.8"]},
"legend": {"orient":"none","legendX":-27,"legendY":253,"columns":2,"direction":"horizontal","title":null,"columnPadding":70,"rowPadding":0,"padding":3,"labelFontSize":12.5,"labelExpr":"datum.label=='i1'?'Support Condition Type I':datum.label=='ii1'?'Support Condition Type II':datum.label=='iii1'?'Support Condition Type III':'Support Condition Type IV'"}},
"fill": {"field": "series", "type": "nominal", "scale": {"domain": ["i1","ii1","iii1","iv1"], "range": ["#999","#000","#000","transparent"]},
"legend": {"orient":"none","legendX":-27,"legendY":253,"columns":2,"direction":"horizontal","title":null,"columnPadding":70,"rowPadding":0,"padding":3,"labelFontSize":12.5,"labelExpr":"datum.label=='i1'?'Support Condition Type I':datum.label=='ii1'?'Support Condition Type II':datum.label=='iii1'?'Support Condition Type III':'Support Condition Type IV'"}},
"stroke": {"field": "series", "type": "nominal", "scale": {"domain": ["i1","ii1","iii1","iv1"], "range": ["#444","#000","#000","#000"]},
"legend": {"orient":"none","legendX":-27,"legendY":253,"columns":2,"direction":"horizontal","title":null,"columnPadding":70,"rowPadding":0,"padding":3,"labelFontSize":12.5,"labelExpr":"datum.label=='i1'?'Support Condition Type I':datum.label=='ii1'?'Support Condition Type II':datum.label=='iii1'?'Support Condition Type III':'Support Condition Type IV'"}}
}
}
]
}
],
"config": {
"view": {"stroke": "#000", "strokeWidth": 1},
"axis": {"grid": true, "gridColor": "#000", "gridWidth": 1, "gridOpacity": 0.85, "domainColor": "#000", "tickColor": "#000", "tickSize": 4, "labelFont": "Liberation Serif", "labelFontSize": 12, "labelColor": "#000", "labelPadding": 3, "titleFont": "Liberation Serif", "titleFontWeight": "bold", "titleFontStyle": "italic", "titleColor": "#000"},
"axisX": {"labelAngle": 0, "titleFontSize": 15},
"axisY": {"titleFontSize": 12, "titlePadding": 4},
"title": {"font": "Liberation Serif", "fontSize": 29, "fontWeight": "normal", "color": "#000", "anchor": "middle", "frame": "group"},
"legend": {"strokeColor": "#000", "fillColor": "#fff", "padding": 4, "labelFont": "Liberation Serif", "labelFontWeight": "bold", "labelFontSize": 11, "labelColor": "#000", "symbolSize": 50, "symbolStrokeWidth": 1, "rowPadding": 2, "columnPadding": 14, "labelOffset": 5}
}
}
